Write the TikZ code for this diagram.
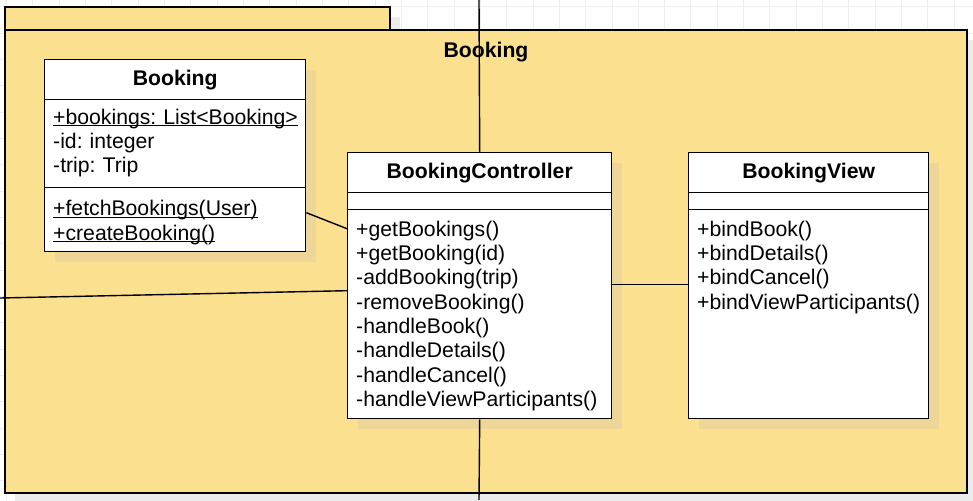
\documentclass[tikz,border=0pt]{standalone}
\usepackage{fontspec}
\setmainfont{Liberation Sans}
\frenchspacing

\definecolor{pkgfill}{RGB}{250,224,143}
\definecolor{pkgshadow}{RGB}{236,236,236}
\definecolor{clsshadow}{RGB}{237,214,152}
\definecolor{gridcolor}{RGB}{238,238,238}

% underline that sits close to the baseline
\newcommand{\staticmember}[1]{\leavevmode\setbox0\hbox{#1}\rlap{\rule[-2.1pt]{\wd0}{1.2pt}}#1}

\tikzset{
  umlfont/.style={font=\fontsize{21.2}{24.3}\selectfont},
  boldfont/.style={font=\fontsize{21.2}{24.3}\selectfont\bfseries},
  compart/.style={draw=black, line width=1.4pt, fill=white, anchor=north west, inner sep=0pt},
  classname/.style={compart, boldfont, minimum height=40pt},
  members/.style={anchor=north west, align=left, text width=250pt, inner xsep=9pt, inner ysep=0pt, text height=15.5pt, umlfont},
  pkgline/.style={draw=black, line width=1.4pt, fill=pkgfill},
  assoc/.style={draw=black, line width=1.4pt},
}

\begin{document}
\begin{tikzpicture}[x=1pt, y=-1pt]
\useasboundingbox (0,0) rectangle (973,500);
% background grid
\foreach \gx in {0,...,36} \draw[gridcolor, line width=0.8pt] (6.3+26.33*\gx,0) -- (6.3+26.33*\gx,500);
\foreach \gy in {0,...,18} \draw[gridcolor, line width=0.8pt] (0,6.7+26.33*\gy) -- (973,6.7+26.33*\gy);

% package Booking
\fill[pkgshadow] (15,17) rectangle (400,40);
\fill[pkgshadow] (15,40) rectangle (977,503);
\draw[pkgline] (5,30) -- (5,7) -- (390,7) -- (390,30) -- cycle;
\draw[pkgline] (5,30) rectangle (967,493);
\node[boldfont] (pkgname) at (486,52) {Booking};

% shadows of the classes
\fill[clsshadow] (55,70) rectangle (316,262);
\fill[clsshadow] (358,163) rectangle (622,429);
\fill[clsshadow] (699,163) rectangle (939,429);

% class Booking
\node[classname, minimum width=261pt] (bkname) at (44,59) {Booking};
\node[compart, minimum width=261pt, minimum height=88pt] (bkattr) at (44,99) {};
\node[compart, minimum width=261pt, minimum height=64pt] (bkops) at (44,187) {};
\node[members] (bkattrtxt) at ([yshift=-9.5pt]bkattr.north west)
  {\staticmember{+bookings: List<Booking>}\\-id: integer\\-trip: Trip};
\node[members] (bkopstxt) at ([yshift=-13pt]bkops.north west)
  {\staticmember{+fetchBookings(User)}\\\staticmember{+createBooking()}};

% class BookingController
\node[classname, minimum width=264pt] (bcname) at (347,152) {BookingController};
\node[compart, minimum width=264pt, minimum height=17pt] (bcattr) at (347,192) {};
\node[compart, minimum width=264pt, minimum height=209pt] (bcops) at (347,209) {};
\node[members] (bcopstxt) at ([yshift=-11.5pt]bcops.north west)
  {+getBookings()\\+getBooking(id)\\-addBooking(trip)\\-removeBooking()\\-handleBook()\\-handleDetails()\\-handleCancel()\\-handleViewParticipants()};

% class BookingView
\node[classname, minimum width=240pt] (bvname) at (688,152) {BookingView};
\node[compart, minimum width=240pt, minimum height=17pt] (bvattr) at (688,192) {};
\node[compart, minimum width=240pt, minimum height=209pt] (bvops) at (688,209) {};
\node[members] (bvopstxt) at ([yshift=-11.5pt]bvops.north west)
  {+bindBook()\\+bindDetails()\\+bindCancel()\\+bindViewParticipants()};

% connectors
\coordinate (topend) at (479,0);
\coordinate (bottomend) at (479,500);
\coordinate (leftend) at (0,298);
\draw[assoc] (topend) -- (bcname.north);
\draw[assoc] (bcops.south) -- (bottomend);
\draw[assoc] ([yshift=7pt]bkops.east) -- ([yshift=85.5pt]bcops.west);
\draw[assoc] (leftend) -- ([yshift=23.5pt]bcops.west);
\draw[assoc] ([yshift=29.5pt]bcops.east) -- ([yshift=29.5pt]bvops.west);
\end{tikzpicture}
\end{document}
